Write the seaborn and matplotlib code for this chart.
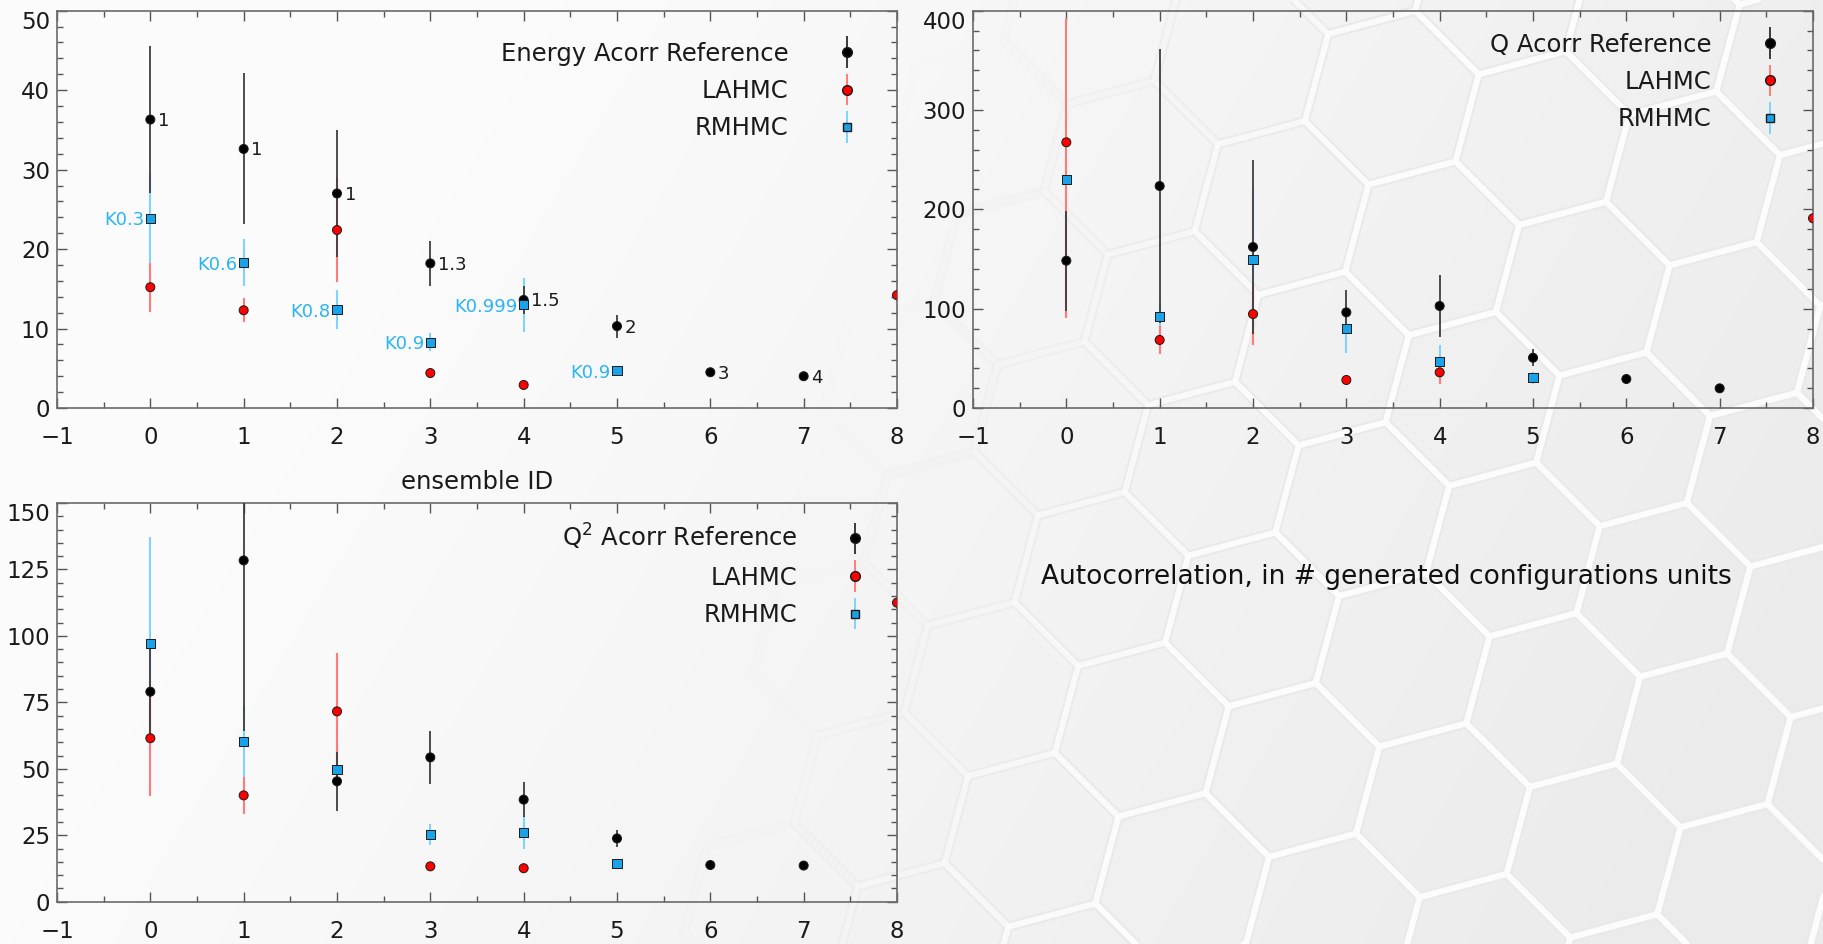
import numpy as np
import pandas as pd
import matplotlib
matplotlib.use("Agg")
import matplotlib.pyplot as plt
from matplotlib.patches import RegularPolygon
from matplotlib.ticker import MultipleLocator
from matplotlib.container import ErrorbarContainer
from matplotlib.legend_handler import HandlerErrorbar
import seaborn as sns

# ---------------- data ----------------
ref_ids = [0, 1, 2, 3, 4, 5, 6, 7]
la_ids = [0, 1, 2, 3, 4, 8]
rm_ids = [0, 1, 2, 3, 4, 5]

ref_labels = ["1", "1", "1", "1.3", "1.5", "2", "3", "4"]
rm_labels = ["K0.3", "K0.6", "K0.8", "K0.9", "K0.999", "K0.9"]

E_ref = [36.3, 32.6, 27.0, 18.2, 13.6, 10.3, 4.5, 4.0]
E_ref_err = [9.2, 9.5, 8.0, 2.8, 1.8, 1.45, 0.3, 0.3]
E_la = [15.2, 12.3, 22.4, 4.4, 2.9, 14.2]
E_la_err = [3.1, 1.5, 6.6, 0.3, 0.3, 0.5]
E_rm = [23.9, 18.3, 12.4, 8.3, 13.0, 4.7]
E_rm_err = [5.6, 2.95, 2.45, 1.1, 3.4, 0.4]

Q_ref = [148.3, 223.5, 162.1, 96.3, 102.7, 50.6, 29.2, 19.8]
Q_ref_err = [50.5, 137.5, 87.5, 22.0, 31.0, 8.8, 3.0, 2.0]
Q_la = [267.5, 68.5, 94.6, 28.2, 35.9, 191.0]
Q_la_err_lo = [177.0, 14.5, 31.0, 3.0, 11.7, 5.0]
Q_la_err_hi = [125.0, 14.5, 31.0, 3.0, 11.7, 5.0]
Q_rm = [230.2, 91.9, 149.7, 80.2, 46.6, 30.5]
Q_rm_err = [25.0, 15.0, 70.0, 25.0, 17.0, 6.0]

Q2_ref = [79.0, 128.4, 45.3, 54.3, 38.4, 23.8, 13.8, 13.6]
Q2_ref_err = [19.0, 64.0, 11.0, 10.0, 6.6, 3.2, 1.0, 1.0]
Q2_la = [61.5, 40.0, 71.6, 13.3, 12.6, 112.5]
Q2_la_err = [21.7, 7.0, 22.0, 1.5, 1.5, 2.0]
Q2_rm = [97.1, 60.3, 49.7, 25.3, 26.1, 14.2]
Q2_rm_err = [40.0, 13.5, 7.0, 4.0, 6.3, 2.0]

xlabel_text = "ensemble ID"
note_text = "Autocorrelation, in # generated configurations units"

# ---------------- styling ----------------
sns.set_theme(style="ticks")
plt.rcParams["font.family"] = ["DejaVu Sans"]
plt.rcParams["axes.unicode_minus"] = True

W, H = 1824, 944
fig = plt.figure(figsize=(W / 100, H / 100), dpi=100)
fig.patch.set_facecolor("#f7f7f7")

# background: soft gradient with a hexagon pattern fading in to the right
bg = fig.add_axes([0, 0, 1, 1], zorder=-10)
bg.set_xlim(0, W)
bg.set_ylim(0, H)
bg.axis("off")
gx, gy = np.meshgrid(np.linspace(0, 1, 300), np.linspace(0, 1, 160))
shade = np.clip((gx - 0.3) / 0.7 * 0.8 + (1 - gy) * 0.35, 0, 1)
val = 0.985 - 0.06 * shade
bg.imshow(np.dstack([val, val, val]), extent=(0, W, 0, H), origin="lower",
          aspect="auto", interpolation="bilinear", zorder=0)
R = 90.0
phi = np.deg2rad(-15)
rot = np.array([[np.cos(phi), -np.sin(phi)], [np.sin(phi), np.cos(phi)]])
a1 = rot @ np.array([np.sqrt(3) * R, 0.0])
a2 = rot @ np.array([np.sqrt(3) * R / 2, 1.5 * R])
origin = np.array([1101.5, 365.0])
for i in range(-14, 15):
    for j in range(-10, 11):
        c = origin + i * a1 + j * a2
        if c[0] < -150 or c[0] > W + 150 or c[1] < -150 or c[1] > H + 150:
            continue
        xn, yn = c[0] / W, 1 - c[1] / H
        alpha = 0.85 * float(np.clip((xn - 0.47) * 4.0 + (yn - 0.5) * 0.7, 0, 1))
        if alpha <= 0:
            continue
        bg.add_patch(RegularPolygon(c, 6, radius=R, orientation=phi,
                                    facecolor="none", edgecolor="#e9e9e9",
                                    lw=7.0, alpha=alpha, zorder=1))
        bg.add_patch(RegularPolygon(c, 6, radius=R, orientation=phi,
                                    facecolor="none", edgecolor="#fdfdfd",
                                    lw=4.2, alpha=alpha, zorder=2))

c_ref, c_la, c_rm = "#000000", "#ff0000", "#1aa3e8"
bar_ref, bar_la, bar_rm = "#3a3a3a", "#ff7b7b", "#7fd3ff"
lbl_rm = "#2ab4f4"

rect_tl = [57 / W, 1 - 408 / H, 840 / W, 397.3 / H]
rect_tr = [973 / W, 1 - 408 / H, 840 / W, 397.3 / H]
rect_bl = [57 / W, 1 - 901.7 / H, 840 / W, 398.7 / H]


def panel(rect, ref, ref_lo, ref_hi, la, la_lo, la_hi, rm, rm_lo, rm_hi,
          ymax, ymajor, yminor, ref_name, leg_anchor, annotate=False):
    ax = fig.add_axes(rect)
    ax.set_facecolor("none")
    df = pd.DataFrame({
        "id": ref_ids + la_ids + rm_ids,
        "val": ref + la + rm,
        "series": ["ref"] * len(ref) + ["la"] * len(la) + ["rm"] * len(rm),
    })
    # error bars
    ax.vlines(rm_ids, np.array(rm) - np.array(rm_lo), np.array(rm) + np.array(rm_hi),
              color=bar_rm, lw=1.5, zorder=2)
    ax.vlines(la_ids, np.array(la) - np.array(la_lo), np.array(la) + np.array(la_hi),
              color=bar_la, lw=1.5, zorder=2.5)
    ax.vlines(ref_ids, np.array(ref) - np.array(ref_lo), np.array(ref) + np.array(ref_hi),
              color=bar_ref, lw=1.4, alpha=0.9, zorder=3)
    sns.scatterplot(data=df, x="id", y="val", hue="series", style="series",
                    palette={"ref": c_ref, "la": c_la, "rm": c_rm},
                    markers={"ref": "o", "la": "o", "rm": "s"},
                    s=42, edgecolor="#1a1a1a", linewidth=0.7, legend=False,
                    ax=ax, zorder=5)
    ax.set_xlim(-1, 8)
    ax.set_ylim(0, ymax)
    ax.set_xlabel("")
    ax.set_ylabel("")
    ax.set_xticks(range(-1, 9))
    ax.xaxis.set_minor_locator(MultipleLocator(0.5))
    ax.set_yticks(np.arange(0, ymax + 0.1, ymajor))
    ax.yaxis.set_minor_locator(MultipleLocator(yminor))
    ax.tick_params(which="both", direction="in", top=True, right=True,
                   colors="#555555", labelcolor="#1a1a1a", labelsize=16.5)
    ax.tick_params(which="major", length=7, width=1.0)
    ax.tick_params(which="minor", length=4, width=1.0)
    ax.tick_params(axis="x", pad=13)
    ax.tick_params(axis="y", pad=5)
    for sp in ax.spines.values():
        sp.set_color("#6a6a6a")
        sp.set_linewidth(1.2)
    ax.yaxis.get_major_ticks()[-1].label1.set_va("top")

    # legend with error-bar handles
    h_ref = ax.errorbar([], [], yerr=[], fmt="o", color=c_ref, ecolor=bar_ref,
                        mec="#1a1a1a", ms=7, elinewidth=1.4, label=ref_name)
    h_la = ax.errorbar([], [], yerr=[], fmt="o", color=c_la, ecolor=bar_la,
                       mec="#1a1a1a", ms=7, elinewidth=1.4, label="LAHMC")
    h_rm = ax.errorbar([], [], yerr=[], fmt="s", color=c_rm, ecolor=bar_rm,
                       mec="#1a1a1a", ms=6.3, elinewidth=1.4, label="RMHMC")
    ax.legend(handles=[h_ref, h_la, h_rm], loc="upper right",
              bbox_to_anchor=leg_anchor, markerfirst=False, frameon=False,
              fontsize=17.5, handlelength=1.0, handletextpad=1.9,
              labelspacing=0.55, borderpad=0, borderaxespad=0,
              labelcolor="#1a1a1a",
              handler_map={ErrorbarContainer: HandlerErrorbar(xerr_size=0.65)})

    if annotate:
        for x, y, t in zip(ref_ids, ref, ref_labels):
            ax.annotate(t, (x, y), xytext=(5.5, -1), textcoords="offset points",
                        ha="left", va="center", fontsize=13, color="#1a1a1a",
                        zorder=6)
        for x, y, t in zip(rm_ids, rm, rm_labels):
            ax.annotate(t, (x, y), xytext=(-4.5, -1.5), textcoords="offset points",
                        ha="right", va="center", fontsize=13, color=lbl_rm,
                        zorder=6)
    return ax


ax_e = panel(rect_tl, E_ref, E_ref_err, E_ref_err, E_la, E_la_err, E_la_err,
             E_rm, E_rm_err, E_rm_err, 50, 10, 2, "Energy Acorr Reference",
             (0.955, 0.922), annotate=True)
ax_e.set_xlabel(xlabel_text, fontsize=17.5, color="#1a1a1a")
ax_e.xaxis.set_label_coords(0.5, -(482 - 408) / 397.3)
ax_e.xaxis.label.set_va("center")

ax_q = panel(rect_tr, Q_ref, Q_ref_err, Q_ref_err, Q_la, Q_la_err_lo, Q_la_err_hi,
             Q_rm, Q_rm_err, Q_rm_err, 400, 100, 20, "Q Acorr Reference",
             (0.963, 0.945))

ax_q2 = panel(rect_bl, Q2_ref, Q2_ref_err, Q2_ref_err, Q2_la, Q2_la_err, Q2_la_err,
              Q2_rm, Q2_rm_err, Q2_rm_err, 150, 25, 5, r"Q$^2$ Acorr Reference",
              (0.965, 0.952))

fig.text(1386 / W, 1 - 577 / H, note_text, ha="center", va="center",
         fontsize=19, color="#111111")

fig.savefig("out.png", dpi=100, facecolor=fig.get_facecolor())
